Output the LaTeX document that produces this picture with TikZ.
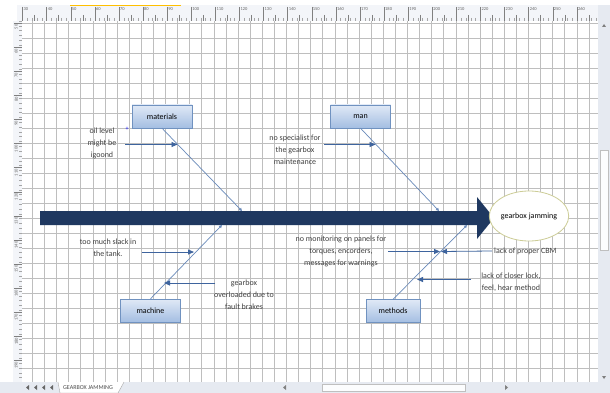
\documentclass[tikz,border=0pt]{standalone}
\usepackage{fontspec}
\setmainfont{Carlito}
\usetikzlibrary{arrows.meta,shapes.geometric}
\definecolor{spinecol}{RGB}{31,56,96}
\definecolor{bonecol}{RGB}{105,138,186}
\definecolor{causecol}{RGB}{62,100,158}
\definecolor{boxtop}{RGB}{224,233,246}
\definecolor{boxbot}{RGB}{164,190,226}
\definecolor{boxline}{RGB}{112,146,192}
\definecolor{ellline}{RGB}{204,204,150}
\definecolor{gridcol}{RGB}{190,190,190}
\definecolor{barcol}{RGB}{230,234,241}
\definecolor{rulercol}{RGB}{243,245,249}

\begin{document}
\begin{tikzpicture}[%
      x=1pt, y=-1pt,
      catbox/.style={draw=boxline, top color=boxtop, bottom color=boxbot,
        minimum width=60pt, minimum height=23pt, inner sep=0pt,
        font=\fontsize{8}{9}\selectfont},
      bone/.style={color=bonecol, line width=0.7pt, -{Triangle[length=3pt,width=3pt]}},
      cause/.style={color=causecol, line width=0.8pt, -{Triangle[length=6pt,width=5pt]}},
      note/.style={align=center, inner sep=0pt, text=black!75,
        font=\fontsize{8}{12}\selectfont},
      rulernum/.style={inner sep=0.5pt, text=black!60, font=\fontsize{4.5}{4.5}\selectfont},
      ]
      \useasboundingbox (0,0) rectangle (610,393);
      \fill [white] (0,0) rectangle (610,393);

      % sheet grid
      \foreach \i in {1,...,47}
        \draw [gridcol, line width=0.45pt] ({20.2+12.1*\i},21) -- ({20.2+12.1*\i},382);
      \foreach \j in {0,...,23}
        \draw [gridcol, line width=0.5pt] (22,{23.3+15*\j}) -- (598,{23.3+15*\j});

      % rulers
      \fill [rulercol] (17,5) rectangle (598,21);
      \draw [color=orange!50!yellow, line width=1pt] (70,5.5) -- (181,5.5);
      \foreach \k in {0,...,119}
        \draw [color=gray!70] ({22.5+4.82*\k},18) -- ({22.5+4.82*\k},21);
      \foreach \i in {0,...,23} {
        \draw [color=gray] ({22.5+24.1*\i},7) -- ({22.5+24.1*\i},21);
        \draw [color=gray] ({34.55+24.1*\i},15) -- ({34.55+24.1*\i},21);
        \pgfmathtruncatemacro{\val}{30+10*\i}
        \node [rulernum, anchor=north west] (top\i) at ({23+24.1*\i},7) {\val};
      }
      \fill [rulercol] (13,21) rectangle (22,382);
      \foreach \k in {0,...,74}
        \draw [color=gray!70] (19,{21+4.82*\k}) -- (22,{21+4.82*\k});
      \foreach \i in {0,...,14} {
        \draw [color=gray] (14,{23+24.1*\i}) -- (22,{23+24.1*\i});
        \pgfmathtruncatemacro{\val}{50+10*\i}
        \node [rulernum, rotate=90, anchor=north east] (left\i) at (14,{24+24.1*\i}) {\val};
      }

      % scroll bars and sheet tab
      \fill [barcol] (598,5) rectangle (610,382);
      \filldraw [fill=white!90!barcol, draw=gray!50] (600,150) rectangle (608,250);
      \fill [gray] (602,27) -- (606,27) -- (604,24) -- cycle;
      \fill [gray] (602,376) -- (606,376) -- (604,379) -- cycle;
      \fill [barcol] (0,382) rectangle (610,393);
      \foreach \x in {26,34,42,50}
        \fill [gray!80!black] (\x,387.5) -- ++(3,-2.5) -- ++(0,5) -- cycle;
      \filldraw [fill=white, draw=gray!70] (58,382) -- (60,393) -- (118,393) -- (124,382);
      \node [font=\fontsize{6}{6}\selectfont, text=black!70, inner sep=0pt] (sheettab) at (88,388) {GEARBOX JAMMING};
      \filldraw [fill=white!90!barcol, draw=gray!50] (322,384) rectangle (465,391);
      \fill [gray] (283,387.5) -- (286,385) -- (286,390) -- cycle;
      \fill [gray] (508,387.5) -- (505,385) -- (505,390) -- cycle;

      % spine and effect
      \fill [spinecol] (40,211) -- (477,211) -- (477,197) -- (494,218)
        -- (477,239) -- (477,225) -- (40,225) -- cycle;
      \node [draw=ellline, fill=white, ellipse, line width=0.8pt,
        minimum width=73pt, minimum height=50pt, inner sep=0pt,
        font=\fontsize{8}{9}\selectfont] (effect) at (529,216) {gearbox jamming};

      % categories
      \node [catbox] (materials) at (162,116.5) {materials};
      \node [catbox] (man) at (360.5,116.5) {man};
      \node [catbox] (machine) at (150.5,310.5) {machine};
      \node [catbox, minimum width=54pt] (methods) at (393,311) {methods};

      \coordinate (matTip) at (242,211);
      \coordinate (manTip) at (439,211);
      \coordinate (macTip) at (222,225);
      \coordinate (metTip) at (467,225);
      \draw [bone] (materials.south) -- (matTip);
      \draw [bone] (man.south) -- (manTip);
      \draw [bone] (machine.north) -- (macTip);
      \draw [bone] (methods.north) -- (metTip);

      % causes
      \node [note] (oil) at (102,143) {oil level\\might be\\igoond};
      \node [text=blue, font=\fontsize{6}{6}\selectfont, inner sep=0pt] (cursor) at (127,129) {+};
      \coordinate (oilFrom) at (125,144.5);
      \coordinate (oilTip) at (177.5,144.5);
      \draw [cause] (oilFrom) -- (oilTip);

      \node [note] (nospec) at (295,150) {no specialist for\\the gearbox\\maintenance};
      \coordinate (specFrom) at (324,144.5);
      \coordinate (specTip) at (375.5,144.5);
      \draw [cause] (specFrom) -- (specTip);

      \node [note] (slack) at (108,248) {too much slack in\\the tank.};
      \coordinate (slackFrom) at (142,252);
      \coordinate (slackTip) at (194,252);
      \draw [cause] (slackFrom) -- (slackTip);

      \node [note] (overload) at (244,295) {gearbox\\overloaded due to\\fault brakes};
      \coordinate (overFrom) at (215,283);
      \coordinate (overTip) at (164,283);
      \draw [cause] (overFrom) -- (overTip);

      \node [note] (monitor) at (341,251) {no monitoring on panels for\\torques, encorders,\\messages for warnings};
      \coordinate (monFrom) at (388,251.5);
      \coordinate (monTip) at (440,251.5);
      \draw [cause] (monFrom) -- (monTip);

      \node [note, anchor=west] (cbm) at (494,251) {lack of proper CBM};
      \coordinate (cbmTip) at (441,251.5);
      \draw [cause] ([xshift=-2pt]cbm.west) -- (cbmTip);

      \node [note] (lock) at (511,282) {lack of closer lock,\\feel, hear method};
      \coordinate (lockFrom) at (471,279.5);
      \coordinate (lockTip) at (417,279.5);
      \draw [cause] (lockFrom) -- (lockTip);
      \end{tikzpicture}
\end{document}
